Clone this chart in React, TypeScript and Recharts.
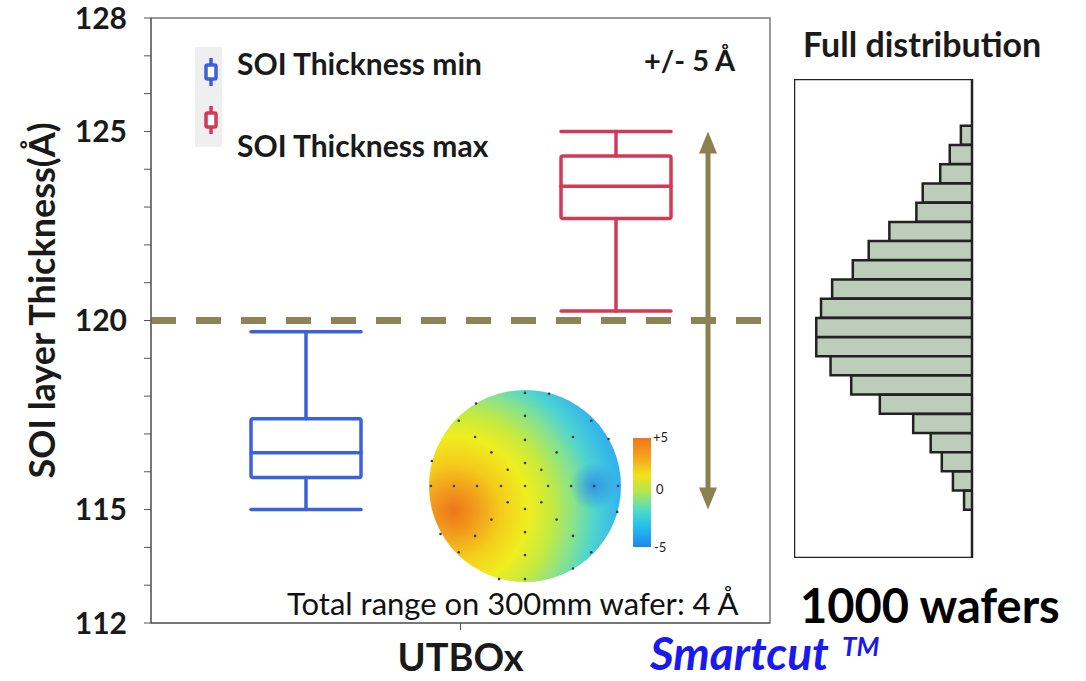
import React from "react";
import {
  ComposedChart,
  BarChart,
  ScatterChart,
  Bar,
  Scatter,
  XAxis,
  YAxis,
  ReferenceLine,
  ReferenceArea,
  ReferenceDot,
  Legend,
} from "recharts";

// box plot: low whisker, q1, median, q3, high whisker
const categories = ["UTBOx"];
const thicknessMin = [115.0, 115.85, 116.5, 117.4, 119.7];
const thicknessMax = [120.25, 122.7, 123.55, 124.35, 125.0];
const yTicks = [112, 113, 114, 115, 116, 117, 118, 119, 120, 121, 122, 123, 124, 125, 126, 127, 128];
const yLabels = [112, 115, 120, 125, 128];
const target = 120;
const specRange = [115, 125];

// full distribution histogram (0.5 A bins, 1000 wafers)
const histCenters = [
  124.75, 124.25, 123.75, 123.25, 122.75, 122.25, 121.75, 121.25, 120.75, 120.25,
  119.75, 119.25, 118.75, 118.25, 117.75, 117.25, 116.75, 116.25, 115.75, 115.25,
];
const histCounts = [7, 14, 20, 31, 35, 52, 65, 75, 88, 95, 98, 98, 89, 76, 58, 37, 26, 19, 12, 5];
const histTicks = [114, 114.5, 115, 115.5, 116, 116.5, 117, 117.5, 118, 118.5, 119, 119.5, 120, 120.5, 121, 121.5, 122, 122.5, 123, 123.5, 124, 124.5, 125, 125.5, 126];
const histLabels = [115, 120, 125];

// wafer map measurement sites (normalised to wafer radius)
const waferPoints = [
  [0, 0],
  [0.24, 0], [-0.25, 0], [0, 0.24], [0, -0.24], [0.17, 0.17], [-0.18, 0.17], [0.17, -0.17], [-0.18, -0.17],
  [0.48, 0], [-0.5, 0], [0, 0.48], [0, -0.48], [0.33, 0.35], [-0.35, 0.35], [0.33, -0.35], [-0.35, -0.35],
  [0.72, 0], [-0.74, 0], [0, 0.73], [0, -0.72], [0.5, 0.51], [-0.52, 0.51], [0.5, -0.52], [-0.52, -0.52],
  [0.97, 0], [-0.98, 0], [0, 0.97], [0, -0.97], [0.69, 0.68], [-0.69, 0.68], [0.69, -0.69], [-0.69, -0.69],
  [0.25, 0.96], [-0.51, 0.86], [0.87, 0.49], [-0.97, 0.26], [0.96, -0.27], [-0.88, -0.5], [-0.27, -0.97], [0.5, -0.86],
];
const colorbarLabels = ["+5", "0", "-5"];

const font = "Lato, 'Open Sans', sans-serif";
const ink = "#1a1a1a";
const olive = "#8a8456";
const arrowColor = "#8b8150";
const blue = "#3b62d8";
const red = "#d23a58";

const boxRows = categories.map((name) => ({
  name,
  minRange: [thicknessMin[0], thicknessMin[4]],
  maxRange: [thicknessMax[0], thicknessMax[4]],
}));
const histRows = histCenters.map((center, i) => ({ center, count: histCounts[i] }));
const waferRows = waferPoints.map(([x, y]) => ({ x, y }));

function BoxShape(props: any) {
  const { x, y, width, height, stats, color, arrow } = props;
  if (x == null || y == null) return null;
  const top = Math.min(y, y + height);
  const h = Math.abs(height);
  const [lo, q1, med, q3, hi] = stats;
  const py = (v: number) => top + ((hi - v) / (hi - lo)) * h;
  const cx = x + width / 2;
  let arrowEl = null;
  if (arrow) {
    // +/- spec arrow drawn to the right of the box
    const ax = x + width + 37;
    const at = py(arrow[1]);
    const ab = py(arrow[0]);
    const head = 22;
    const half = 9;
    arrowEl = (
      <g fill={arrowColor} stroke="none">
        <line x1={ax} x2={ax} y1={at + head - 2} y2={ab - head + 2} stroke={arrowColor} strokeWidth={5} />
        <polygon points={`${ax},${at} ${ax - half},${at + head} ${ax + half},${at + head}`} />
        <polygon points={`${ax},${ab} ${ax - half},${ab - head} ${ax + half},${ab - head}`} />
      </g>
    );
  }
  return (
    <g>
      <g stroke={color} strokeWidth={3.5} fill="none" strokeLinecap="round">
        <line x1={x} x2={x + width} y1={py(hi)} y2={py(hi)} />
        <line x1={cx} x2={cx} y1={py(hi)} y2={py(q3)} />
        <rect x={x} y={py(q3)} width={width} height={py(q1) - py(q3)} rx={2} />
        <line x1={x} x2={x + width} y1={py(med)} y2={py(med)} />
        <line x1={cx} x2={cx} y1={py(q1)} y2={py(lo)} />
        <line x1={x} x2={x + width} y1={py(lo)} y2={py(lo)} />
      </g>
      {arrowEl}
    </g>
  );
}

function BoxIcon({ cx, cy, color }: { cx: number; cy: number; color: string }) {
  return (
    <g stroke={color} strokeWidth={3.5} fill="#fff">
      <line x1={cx} x2={cx} y1={cy - 14} y2={cy + 14} />
      <rect x={cx - 5} y={cy - 7} width={10} height={14} rx={1.5} />
    </g>
  );
}

function MainLegend() {
  return (
    <svg width={340} height={130} style={{ fontFamily: font }}>
      <rect x={5} y={7} width={27} height={100} fill="#efefef" />
      <BoxIcon cx={21} cy={32} color={blue} />
      <BoxIcon cx={21} cy={80} color={red} />
      <text x={47} y={35} fontSize={30} fontWeight={700} fill={ink}>SOI Thickness min</text>
      <text x={47} y={117} fontSize={30} fontWeight={700} fill={ink}>SOI Thickness max</text>
    </svg>
  );
}

function ColorbarLegend() {
  return (
    <svg width={56} height={132} style={{ fontFamily: font }}>
      <rect x={0} y={11} width={18} height={109} fill="url(#cbarFill)" />
      <text x={20} y={15} fontSize={13} fill="#222">{colorbarLabels[0]}</text>
      <text x={23} y={67} fontSize={13} fill="#222">{colorbarLabels[1]}</text>
      <text x={21} y={125} fontSize={13} fill="#222">{colorbarLabels[2]}</text>
    </svg>
  );
}

function HistTick(props: any) {
  const { x, y, payload } = props;
  const v = payload.value;
  const major = Number.isInteger(v);
  return (
    <g>
      <line x1={x} x2={x + (major ? 9 : 5)} y1={y} y2={y} stroke="#222" strokeWidth={2.5} />
      {histLabels.includes(v) && (
        <text x={x + 27} y={y} dy="0.36em" fontSize={28} fontWeight={700} fill={ink} fontFamily={font}>
          {v}
        </text>
      )}
    </g>
  );
}

export default function App() {
  return (
    <div style={{ position: "absolute", left: 0, top: 0, width: 1086, height: 681, background: "#fff", fontFamily: font }}>
      <svg width={0} height={0} style={{ position: "absolute" }}>
        <defs>
          <radialGradient id="waferFill" cx="0.13" cy="0.63" r="1.02">
            <stop offset="0" stopColor="#ee761a" />
            <stop offset="0.1" stopColor="#f1961c" />
            <stop offset="0.24" stopColor="#f4cc1a" />
            <stop offset="0.38" stopColor="#eeee20" />
            <stop offset="0.5" stopColor="#c4ea40" />
            <stop offset="0.62" stopColor="#86e290" />
            <stop offset="0.72" stopColor="#4ed4d0" />
            <stop offset="0.84" stopColor="#34b6ec" />
            <stop offset="1" stopColor="#3092e2" />
          </radialGradient>
          <radialGradient id="coldSpot" cx="0.5" cy="0.5" r="0.5">
            <stop offset="0" stopColor="#2f8ee6" stopOpacity="0.9" />
            <stop offset="1" stopColor="#2f8ee6" stopOpacity="0" />
          </radialGradient>
          <linearGradient id="cbarFill" x1="0" y1="0" x2="0" y2="1">
            <stop offset="0" stopColor="#ef761a" />
            <stop offset="0.18" stopColor="#f4a41c" />
            <stop offset="0.34" stopColor="#f3e21a" />
            <stop offset="0.5" stopColor="#b0e650" />
            <stop offset="0.66" stopColor="#50dcc8" />
            <stop offset="0.82" stopColor="#22bdf0" />
            <stop offset="1" stopColor="#1e86e8" />
          </linearGradient>
        </defs>
      </svg>

      {/* main box plot panel */}
      <div style={{ position: "absolute", left: 0, top: 0 }}>
        <ComposedChart
          width={790}
          height={681}
          data={boxRows}
          barGap={200}
          margin={{ top: 18, right: 20, bottom: 0, left: 0 }}
        >
          <XAxis
            dataKey="name"
            height={58}
            tickSize={7}
            tickMargin={14}
            stroke="#555"
            tick={{ fontSize: 38, fontWeight: 700, fill: ink, fontFamily: font }}
          />
          <YAxis
            type="number"
            domain={[112, 128]}
            allowDataOverflow
            ticks={yTicks}
            interval={0}
            width={151}
            tickSize={7}
            tickMargin={17}
            stroke="#555"
            tickFormatter={(v: number) => (yLabels.includes(v) ? String(v) : "")}
            tick={{ fontSize: 30, fontWeight: 700, fill: ink, fontFamily: font }}
            label={{
              content: (p: any) => {
                const vb = p.viewBox;
                const lx = vb.x + 41;
                const ly = vb.y + vb.height / 2 - 20;
                return (
                  <text
                    x={lx}
                    y={ly}
                    transform={`rotate(-90 ${lx} ${ly})`}
                    textAnchor="middle"
                    dominantBaseline="central"
                    fontSize={36}
                    fontWeight={700}
                    fill={ink}
                    fontFamily={font}
                  >
                    SOI layer Thickness(Å)
                  </text>
                );
              },
            }}
          />
          <ReferenceArea y1={112} y2={128} fill="none" stroke="#7a7a7a" strokeWidth={1.5} />
          <Legend
            layout="horizontal"
            verticalAlign="middle"
            align="center"
            content={() => <MainLegend />}
            wrapperStyle={{ left: 190, top: 40, width: 340 }}
          />
          <Bar
            dataKey="minRange"
            barSize={110}
            isAnimationActive={false}
            shape={(p: any) => <BoxShape {...p} stats={thicknessMin} color={blue} />}
          />
          <Bar
            dataKey="maxRange"
            barSize={110}
            isAnimationActive={false}
            shape={(p: any) => <BoxShape {...p} stats={thicknessMax} color={red} arrow={specRange} />}
          />
          <ReferenceLine y={target} stroke={olive} strokeWidth={7} strokeDasharray="25 20" />
        </ComposedChart>
      </div>

      {/* wafer map inset */}
      <div style={{ position: "absolute", left: 425, top: 386 }}>
        <ScatterChart width={264} height={200} margin={{ top: 4, right: 68, bottom: 4, left: 4 }}>
          <XAxis type="number" dataKey="x" domain={[-1, 1]} allowDataOverflow hide />
          <YAxis type="number" dataKey="y" domain={[-1, 1]} allowDataOverflow hide />
          <ReferenceDot x={0} y={0} r={96} fill="url(#waferFill)" stroke="none" />
          <ReferenceDot x={0.72} y={0} r={24} fill="url(#coldSpot)" stroke="none" />
          <Legend
            layout="horizontal"
            verticalAlign="middle"
            align="center"
            content={() => <ColorbarLegend />}
            wrapperStyle={{ left: 208, top: 41, width: 56 }}
          />
          <Scatter
            data={waferRows}
            isAnimationActive={false}
            shape={(p: any) => <circle cx={p.cx} cy={p.cy} r={1.3} fill="#3a3a3a" />}
          />
        </ScatterChart>
      </div>

      {/* full distribution histogram */}
      <div style={{ position: "absolute", left: 794, top: 79 }}>
        <BarChart
          width={270}
          height={479}
          data={histRows}
          layout="vertical"
          barCategoryGap={0}
          margin={{ top: 0, right: 92, bottom: 0, left: 0 }}
        >
          <XAxis type="number" domain={[0, 112]} allowDataOverflow reversed hide />
          <YAxis
            type="number"
            dataKey="center"
            orientation="right"
            domain={[113.75, 126.22]}
            allowDataOverflow
            reversed
            ticks={histTicks}
            interval={0}
            width={0}
            axisLine={false}
            tickLine={false}
            tickSize={0}
            tickMargin={0}
            tick={(p: any) => <HistTick {...p} />}
          />
          <Bar dataKey="count" fill="#bccdb9" stroke="#222" strokeWidth={2.5} isAnimationActive={false} />
          <ReferenceArea x1={0} x2={112} y1={113.75} y2={126.22} fill="none" stroke="#222" strokeWidth={2.5} />
        </BarChart>
      </div>

      {/* captions */}
      <svg width={1086} height={681} style={{ position: "absolute", left: 0, top: 0, pointerEvents: "none", fontFamily: font }}>
        <text x={644} y={71} fontSize={29} fontWeight={700} fill={ink}>+/- 5 Å</text>
        <text x={803} y={57} fontSize={34} fontWeight={700} fill={ink}>Full distribution</text>
        <text x={287} y={615} fontSize={31} fontWeight={400} fill="#111">Total range on 300mm wafer: 4 Å</text>
        <text x={800} y={623} fontSize={47} fontWeight={700} fill="#000">1000 wafers</text>
        <text x={650} y={670} fontSize={46} fontWeight={700} fontStyle="italic" fill="#1a1aee">Smartcut</text>
        <text x={842} y={656} fontSize={26} fontWeight={700} fontStyle="italic" fill="#1a1aee">TM</text>
      </svg>
    </div>
  );
}
